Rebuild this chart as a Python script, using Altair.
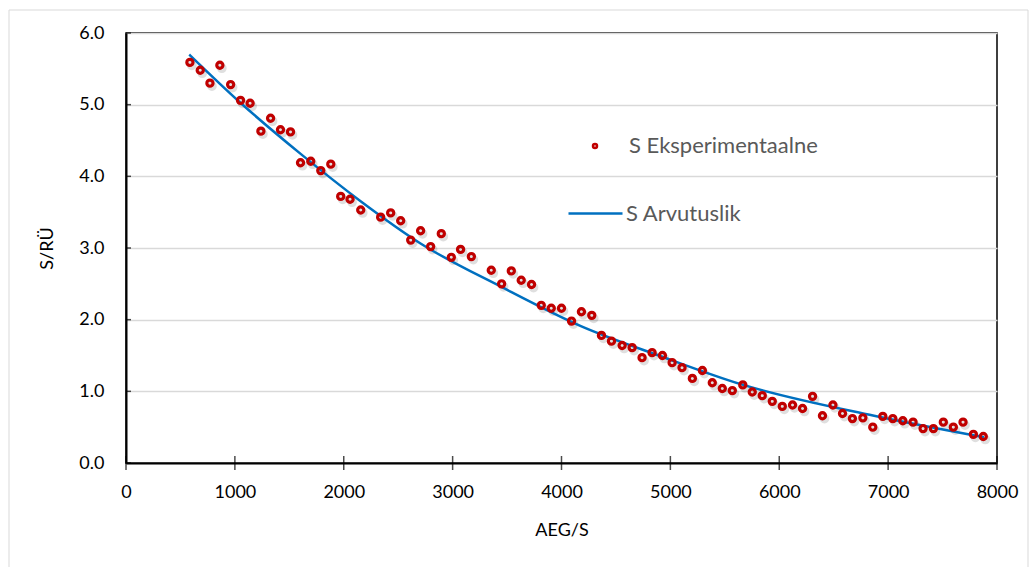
import altair as alt
import pandas as pd

FONT = "Lato"

# Measured series (AEG/S vs S/RÜ)
aeg = [587, 682, 771, 862, 961, 1052, 1140,
       1239, 1328, 1419, 1511, 1603, 1697, 1789, 1881, 1972,
       2058, 2156,
       2339, 2431, 2523, 2615, 2706, 2798, 2896, 2988, 3073, 3172,
       3355, 3450, 3539, 3630, 3725, 3814, 3906, 4000, 4092, 4183, 4278,
       4367, 4459, 4557, 4649, 4740, 4832, 4927, 5016, 5107, 5202, 5294,
       5385, 5477, 5569, 5665, 5752, 5844, 5936, 6028, 6122, 6214, 6306,
       6397, 6493, 6581, 6672, 6768, 6859, 6951, 7043, 7135, 7229, 7321,
       7416, 7507, 7599, 7688, 7783, 7874]
s_exp = [5.59, 5.48, 5.30, 5.55, 5.28, 5.06, 5.02,
         4.63, 4.81, 4.65, 4.62, 4.19, 4.21, 4.08, 4.17, 3.72,
         3.68, 3.53,
         3.43, 3.49, 3.38, 3.11, 3.24, 3.02, 3.20, 2.87, 2.98, 2.88,
         2.69, 2.50, 2.68, 2.55, 2.49, 2.20, 2.16, 2.16, 1.98, 2.11, 2.06,
         1.78, 1.70, 1.64, 1.61, 1.47, 1.54, 1.50, 1.40, 1.33, 1.18, 1.29,
         1.12, 1.04, 1.01, 1.09, 0.99, 0.94, 0.86, 0.79, 0.81, 0.76, 0.93,
         0.66, 0.81, 0.69, 0.62, 0.63, 0.50, 0.65, 0.62, 0.59, 0.57, 0.48,
         0.48, 0.57, 0.50, 0.57, 0.40, 0.37]

# Calculated curve
aeg_fit = [581, 1056, 1607, 2158, 2709, 3444, 4178, 4913, 5647, 6871, 7881]
s_fit = [5.70, 5.02, 4.31, 3.65, 3.06, 2.46, 1.91, 1.49, 1.10, 0.66, 0.36]

x_ticks = [0, 1000, 2000, 3000, 4000, 5000, 6000, 7000, 8000]
y_ticks = [0, 1, 2, 3, 4, 5, 6]

EXP_NAME = "S Eksperimentaalne"
FIT_NAME = "S Arvutuslik"

pts = pd.DataFrame({"AEG": aeg, "S": s_exp, "series": EXP_NAME})
fit = pd.DataFrame({"AEG": aeg_fit, "S": s_fit, "series": FIT_NAME})
xt = pd.DataFrame({"AEG": x_ticks, "S": [0] * len(x_ticks)})
yt = pd.DataFrame({"AEG": [0] * len(y_ticks), "S": y_ticks})
one = pd.DataFrame({"k": [0]})

W, H = 871, 430
x_scale = alt.Scale(domain=[0, 8000], nice=False, zero=False)
y_scale = alt.Scale(domain=[0, 6], nice=False)

x_axis = alt.Axis(values=x_ticks, format="d", title="AEG/S", grid=False,
                  ticks=False, tickSize=0, labelPadding=20, labelFlush=False,
                  domainColor="#000000", domainWidth=2,
                  labelFont=FONT, labelFontSize=18, labelColor="#000000",
                  titleFont=FONT, titleFontSize=18, titleFontWeight="normal",
                  titleColor="#000000", titlePadding=20)
y_axis = alt.Axis(values=y_ticks, format=".1f", title="S/RÜ", grid=True,
                  gridColor="#D9D9D9", gridWidth=1.5,
                  ticks=False, tickSize=0, labelPadding=22, labelFlush=False,
                  domainColor="#000000", domainWidth=2,
                  labelFont=FONT, labelFontSize=18, labelColor="#000000",
                  titleFont=FONT, titleFontSize=18, titleFontWeight="normal",
                  titleColor="#000000", titlePadding=22)

X = alt.X("AEG:Q", scale=x_scale, axis=x_axis)
Y = alt.Y("S:Q", scale=y_scale, axis=y_axis)

# light outer frame (top, left, right edges)
frame_top = alt.Chart(one).mark_rule(color="#D9D9D9", strokeWidth=1).encode(
    x=alt.value(-117), x2=alt.value(902), y=alt.value(-23))
frame_left = alt.Chart(one).mark_rule(color="#D9D9D9", strokeWidth=1).encode(
    x=alt.value(-117), y=alt.value(-23), y2=alt.value(534))
frame_right = alt.Chart(one).mark_rule(color="#D9D9D9", strokeWidth=1).encode(
    x=alt.value(902), y=alt.value(-23), y2=alt.value(534))

shadow = alt.Chart(pts).mark_point(
    filled=False, color="#000000", opacity=0.12, size=38, strokeWidth=3.5,
    xOffset=2, yOffset=3
).encode(x=X, y=Y)

points = alt.Chart(pts).mark_point(
    filled=False, size=38, strokeWidth=3.2, opacity=1
).encode(
    x=X, y=Y,
    color=alt.Color(
        "series:N",
        scale=alt.Scale(domain=[EXP_NAME], range=["#C00000"]),
        legend=alt.Legend(
            orient="none", legendX=458, legendY=102, title=None, padding=0,
            symbolType="circle", symbolSize=16, symbolStrokeWidth=2.5,
            symbolOpacity=1, labelLimit=0,
            labelFont=FONT, labelFontSize=22, labelColor="#595959",
            labelOffset=23,
        ),
    ),
)

curve = alt.Chart(fit).mark_line(
    strokeWidth=2.5, interpolate="monotone"
).encode(
    x=X, y=Y,
    color=alt.Color(
        "series:N",
        scale=alt.Scale(domain=[FIT_NAME], range=["#0070C0"]),
        legend=alt.Legend(
            orient="none", legendX=441, legendY=152, title=None, padding=0,
            symbolType="stroke", symbolSize=2916, symbolStrokeWidth=2.5,
            labelLimit=0,
            labelFont=FONT, labelFontSize=22, labelColor="#595959",
            labelOffset=2,
        ),
    ),
)

# tick marks crossing the x axis, short inner ticks on the y axis
x_tick_marks = alt.Chart(xt).mark_tick(
    orient="vertical", size=14, thickness=1.5, color="#000000"
).encode(x=X, y=Y)
y_tick_marks = alt.Chart(yt).mark_tick(
    orient="horizontal", size=5, thickness=1.5, color="#000000", xOffset=2.5
).encode(x=X, y=Y)

chart = alt.layer(
    frame_top, frame_left, frame_right,
    shadow, curve, points, x_tick_marks, y_tick_marks
).resolve_scale(
    color="independent"
).resolve_legend(
    color="independent"
).properties(
    width=W, height=H,
    padding={"left": 8, "top": 9, "right": 0, "bottom": 0},
    background="white",
).configure_view(
    stroke="#000000", strokeWidth=1.5
)

chart.save("out.html", embed_options={"renderer": "svg", "actions": False})
